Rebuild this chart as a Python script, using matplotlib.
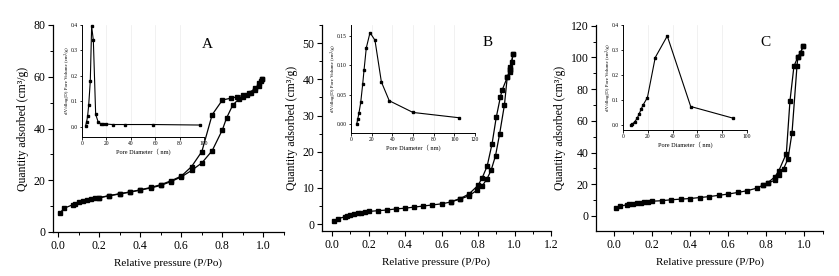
import matplotlib
matplotlib.use("Agg")
import matplotlib.pyplot as plt
from matplotlib.ticker import MultipleLocator, FormatStrFormatter

plt.rcParams['font.family'] = ['Liberation Serif', 'Noto Sans CJK SC', 'DejaVu Serif']

# ---------------- data ----------------
# Panel A isotherm
a_ads_p = [0.01,0.03,0.07,0.08,0.10,0.12,0.14,0.16,0.18,0.20,0.25,0.30,0.35,0.40,0.45,0.50,0.55,0.60,0.65,0.70,0.75,0.80,0.82,0.85,0.88,0.90,0.92,0.94,0.96,0.98,0.99,0.995]
a_ads_q = [7.5,9.2,10.5,11.0,11.5,12.0,12.3,12.7,13.0,13.2,14.0,14.7,15.4,16.2,17.0,18.0,19.5,21.3,23.8,26.7,31.4,39.5,44.0,49.0,51.4,52.3,53.0,53.7,54.8,56.5,58.3,59.3]
a_des_p = [0.995,0.98,0.96,0.93,0.90,0.87,0.84,0.80,0.75,0.70,0.65,0.60,0.55,0.50,0.45,0.40,0.35,0.30,0.25,0.20]
a_des_q = [59.3,57.5,55.5,53.8,52.8,52.2,51.7,51.0,45.3,31.1,25.3,21.6,19.8,18.3,17.2,16.3,15.5,14.8,14.1,13.3]

# Panel B isotherm
b_ads_p = [0.01,0.03,0.07,0.08,0.10,0.12,0.14,0.16,0.18,0.20,0.25,0.30,0.35,0.40,0.45,0.50,0.55,0.60,0.65,0.70,0.75,0.795,0.823,0.85,0.872,0.896,0.918,0.945,0.96,0.974,0.978,0.984,0.993]
b_ads_q = [0.8,1.5,2.0,2.2,2.5,2.8,3.0,3.2,3.3,3.5,3.7,3.9,4.2,4.4,4.7,5.0,5.3,5.6,6.1,6.9,7.8,9.4,10.5,12.6,14.9,18.9,24.8,33.0,40.5,42.1,42.8,44.7,47.0]
b_des_p = [0.993,0.978,0.974,0.96,0.932,0.923,0.90,0.877,0.85,0.823,0.80,0.75,0.70,0.65]
b_des_q = [47.0,43.5,42.5,40.5,37.0,35.2,29.5,22.2,16.0,12.8,10.7,8.3,7.0,6.2]

# Panel C isotherm
c_ads_p = [0.01,0.03,0.07,0.08,0.10,0.12,0.14,0.16,0.18,0.20,0.25,0.30,0.35,0.40,0.45,0.50,0.55,0.60,0.65,0.70,0.75,0.784,0.81,0.846,0.868,0.893,0.916,0.937,0.963,0.968,0.982,0.995]
c_ads_q = [5.0,6.0,7.2,7.5,7.8,8.1,8.4,8.7,9.0,9.3,9.6,10.2,10.6,11.0,11.6,12.2,13.0,13.8,14.8,15.9,17.5,19.4,20.8,22.5,25.7,29.9,36.2,52.6,94.5,100.4,103.0,107.2]
c_des_p = [0.995,0.982,0.968,0.947,0.926,0.907,0.867,0.846,0.81,0.784]
c_des_q = [107.2,103.0,100.4,94.5,72.4,39.4,28.4,24.6,21.0,19.5]

# Insets: pore size distributions
a_pore_d = [3.0,3.8,4.6,5.5,6.8,7.9,9.3,11.2,13.4,15.3,17.5,19.4,25,35.5,58,97]
a_pore_v = [0.005,0.02,0.042,0.086,0.18,0.395,0.34,0.049,0.017,0.013,0.011,0.011,0.009,0.009,0.009,0.007]
b_pore_d = [5.5,6.5,7.7,9.4,11.3,12.6,14.8,18.4,23.2,29.4,37,60,104.5]
b_pore_v = [0.0,0.0085,0.019,0.037,0.068,0.092,0.13,0.156,0.143,0.072,0.040,0.020,0.011]
c_pore_d = [6.2,7.6,9.5,11.4,13,14.6,16.2,19.7,26,35.7,54.6,89]
c_pore_v = [0.0,0.004,0.013,0.027,0.044,0.063,0.08,0.11,0.27,0.356,0.074,0.027]

letters = ['A', 'B', 'C']
xlabel_main = 'Relative pressure (P/Po)'
ylabel_main = 'Quantity adsorbed (cm³/g)'
xlabel_in = 'Pore Diameter（ nm)'
ylabel_in = 'dV/dlog(D) Pore Volume (cm³/g)'

W, H = 839, 276
fig = plt.figure(figsize=(W/100, H/100), dpi=100)
fig.patch.set_facecolor('white')

def px_axes(l, r, t, b):
    return fig.add_axes([l/W, (H-b)/H, (r-l)/W, (b-t)/H])

main_specs = [
    dict(box=(53, 284, 25, 232), xlim=(-0.025, 1.1), ylim=(0, 80), ymaj=20, ymin=10,
         data=(a_ads_p, a_ads_q, a_des_p, a_des_q), letter_xy=(207, 45)),
    dict(box=(322, 551, 25, 231), xlim=(-0.055, 1.2), ylim=(-1.9, 55), ymaj=10, ymin=5,
         data=(b_ads_p, b_ads_q, b_des_p, b_des_q), letter_xy=(488, 43)),
    dict(box=(596, 823, 25, 231), xlim=(-0.095, 1.1), ylim=(-9.5, 120.5), ymaj=20, ymin=10,
         data=(c_ads_p, c_ads_q, c_des_p, c_des_q), letter_xy=(765, 43)),
]
inset_specs = [
    dict(box=(82, 204, 25, 137), xlim=(0, 100), ylim=(-0.04, 0.4), xmaj=20, ymaj=0.1, fmt='%.1f',
         data=(a_pore_d, a_pore_v)),
    dict(box=(351, 475, 25, 133), xlim=(0, 120), ylim=(-0.015, 0.169), xmaj=20, ymaj=0.05, fmt='%.2f',
         data=(b_pore_d, b_pore_v)),
    dict(box=(623, 747, 25, 130), xlim=(0, 100), ylim=(-0.02, 0.4), xmaj=20, ymaj=0.1, fmt='%.1f',
         data=(c_pore_d, c_pore_v)),
]

for i, (ms, ins) in enumerate(zip(main_specs, inset_specs)):
    ax = px_axes(*ms['box'])
    ax.set_xlim(*ms['xlim'])
    ax.set_ylim(*ms['ylim'])
    for s in ['top', 'right']:
        ax.spines[s].set_visible(False)
    for s in ['left', 'bottom']:
        ax.spines[s].set_linewidth(0.9)
    ax.xaxis.set_major_locator(MultipleLocator(0.2))
    ax.xaxis.set_minor_locator(MultipleLocator(0.1))
    ax.yaxis.set_major_locator(MultipleLocator(ms['ymaj']))
    ax.yaxis.set_minor_locator(MultipleLocator(ms['ymin']))
    ax.xaxis.set_major_formatter(FormatStrFormatter('%.1f'))
    ax.tick_params(which='major', direction='out', length=3.5, width=0.8, labelsize=8.5, pad=2)
    ax.tick_params(which='minor', direction='out', length=2, width=0.7)
    ap, aq, dp, dq = ms['data']
    ax.plot(ap, aq, '-s', color='black', lw=0.9, ms=3.4, clip_on=False)
    ax.plot(dp, dq, '-s', color='black', lw=0.9, ms=3.4, clip_on=False)
    ax.set_xlabel(xlabel_main, fontsize=8, labelpad=5)
    ax.set_ylabel(ylabel_main, fontsize=8.5, labelpad=3)
    lx, ly = ms['letter_xy']
    fig.text(lx/W, (H-ly)/H, letters[i], fontsize=11, ha='center', va='center')

    ia = px_axes(*ins['box'])
    ia.set_facecolor('white')
    ia.set_xlim(*ins['xlim'])
    ia.set_ylim(*ins['ylim'])
    for s in ['top', 'right']:
        ia.spines[s].set_visible(False)
    for s in ['left', 'bottom']:
        ia.spines[s].set_linewidth(0.7)
    ia.xaxis.set_major_locator(MultipleLocator(ins['xmaj']))
    ia.yaxis.set_major_locator(MultipleLocator(ins['ymaj']))
    ia.yaxis.set_major_formatter(FormatStrFormatter(ins['fmt']))
    ia.tick_params(which='major', direction='out', length=1.8, width=0.6, labelsize=4, pad=1)
    ia.grid(axis='x', color='#ececec', lw=0.5)
    ia.set_axisbelow(True)
    d, v = ins['data']
    ia.plot(d, v, '-s', color='black', lw=0.8, ms=1.5, clip_on=False)
    ia.set_xlabel(xlabel_in, fontsize=4.5, labelpad=1.5)
    ia.set_ylabel(ylabel_in, fontsize=3.6, labelpad=1.5)

fig.savefig('out.png', dpi=100, facecolor='white')
